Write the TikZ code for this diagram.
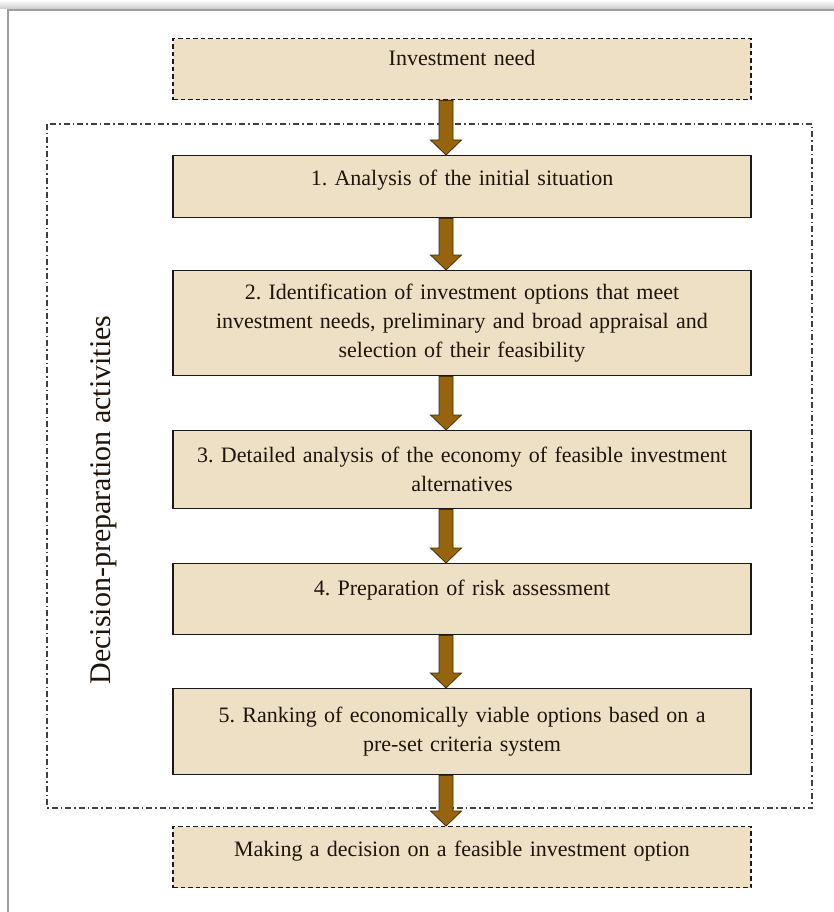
\documentclass[tikz,border=0pt]{standalone}
\usepackage{fontspec}
\setmainfont{Liberation Serif}
\frenchspacing
\usetikzlibrary{calc}
\definecolor{parchment}{RGB}{237,224,196}
\definecolor{arrowbrown}{RGB}{150,100,12}
\definecolor{arrowedge}{RGB}{70,45,5}
\definecolor{inktext}{RGB}{30,20,10}
% block arrow from the bottom of one box to the top of the next
\newcommand{\flowarrow}[2]{%
  \filldraw[arrowbrown, draw=arrowedge, line width=0.8pt]
    let \p1=(#1.south), \p2=(#2.north) in
    (\x1-23pt,\y1) -- (\x1-9pt,\y1) -- (\x1-9pt,\y2+15pt) -- (\x1-0.5pt,\y2+15pt)
    -- (\x1-16pt,\y2) -- (\x1-31.5pt,\y2+15pt) -- (\x1-23pt,\y2+15pt) -- cycle;}
\begin{document}
\begin{tikzpicture}[x=1pt, y=-1pt,
    stepbox/.style={draw=black!90, line width=1.4pt, fill=parchment, anchor=north,
      minimum width=578pt, text width=560pt, inner xsep=9pt, inner ysep=0pt,
      align=center, text=inktext, font=\fontsize{22}{29}\selectfont},
    endbox/.style={stepbox, dash pattern=on 4.5pt off 3pt}]
  \useasboundingbox (0,0) rectangle (834,912);
  % page frame
  \shade[top color=white, bottom color=gray!40] (0,0) rectangle (834,9);
  \draw[gray!75, line width=2.5pt] (8,912) -- (8,10) -- (834,10);
  % decision-preparation frame
  \draw[black!75, line width=1.1pt, dash pattern=on 6pt off 3pt on 1.5pt off 3pt]
    (47,124) rectangle (812,808);
  \node[rotate=90, text=inktext, font=\fontsize{30}{30}\selectfont] (side) at (104,500)
    {Decision-preparation activities};
  % boxes
  \node[endbox, text height=27pt, text depth=34pt] (need) at (462,38) {Investment need};
  \node[stepbox, text height=30pt, text depth=32pt] (s1) at (462,155)
    {1. Analysis of the initial situation};
  \node[stepbox, minimum height=105pt] (s2) at (462,270)
    {2. Identification of investment options that meet\\ investment needs, preliminary and broad appraisal and\\ selection of their feasibility};
  \node[stepbox, minimum height=78pt] (s3) at (462,430)
    {3. Detailed analysis of the economy of feasible investment\\ alternatives};
  \node[stepbox, text height=32pt, text depth=39pt] (s4) at (462,563)
    {4. Preparation of risk assessment};
  \node[stepbox, minimum height=86pt] (s5) at (462,688)
    {5. Ranking of economically viable options based on a\\ pre-set criteria system};
  \node[endbox, text height=30pt, text depth=31pt] (decide) at (462,826)
    {Making a decision on a feasible investment option};
  % arrows
  \flowarrow{need}{s1}
  \flowarrow{s1}{s2}
  \flowarrow{s2}{s3}
  \flowarrow{s3}{s4}
  \flowarrow{s4}{s5}
  \flowarrow{s5}{decide}
\end{tikzpicture}
\end{document}
